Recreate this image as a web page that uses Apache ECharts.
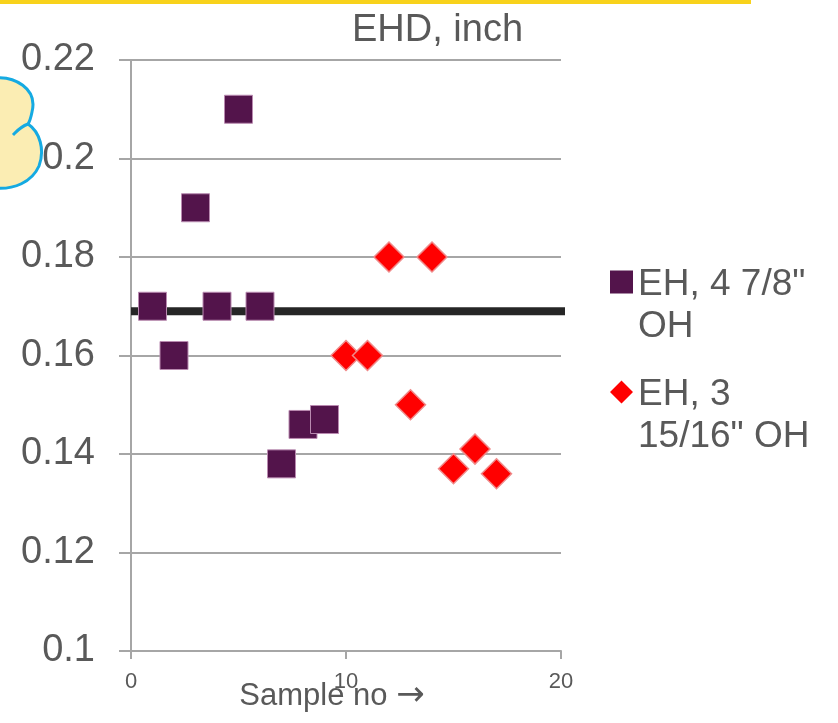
<!DOCTYPE html>
<html><head><meta charset="utf-8">
<script src="https://cdn.jsdelivr.net/npm/echarts@6/dist/echarts.min.js"></script>
<style>html,body{margin:0;padding:0;background:#fff}#c{width:838px;height:723px}</style>
</head><body><div id="c"></div>
<script>
// ---- data ----
const seriesNames = ['EH, 4 7/8" OH', 'EH, 3 15/16" OH'];
const legendLabels = ['EH, 4 7/8"\nOH', 'EH, 3\n15/16" OH'];
const sampleA = [1, 2, 3, 4, 5, 6, 7, 8, 9];
const ehdA = [0.17, 0.16, 0.19, 0.17, 0.21, 0.17, 0.138, 0.146, 0.147];
const sampleB = [10, 11, 12, 13, 14, 15, 16, 17];
const ehdB = [0.16, 0.16, 0.18, 0.15, 0.18, 0.137, 0.141, 0.136];
const refLineX = [0, 20.37];
const refLineY = [0.169, 0.169];
const titleText = 'EHD, inch';
const xAxisNameText = 'Sample no';
const xAxisArrow = '\u2192';

const FONT = '"Liberation Sans", Arial, sans-serif';
const TXT = '#595959';
const GRID = '#A6A6A6';

const zip = (xs, ys) => xs.map((x, i) => [x, ys[i]]);

// decorative cloud shape (partially off-canvas at the left)
const CloudShape = echarts.graphic.extendShape({
  shape: {},
  buildPath: function (ctx) {
    ctx.moveTo(-6, 78);
    ctx.bezierCurveTo(14, 76, 38, 88, 32, 112);
    ctx.bezierCurveTo(31, 117, 30, 121, 28, 124);
    ctx.bezierCurveTo(40, 132, 45, 150, 39, 166);
    ctx.bezierCurveTo(32, 182, 14, 190, -6, 188);
    ctx.closePath();
  }
});
echarts.graphic.registerShape('cloudShape', CloudShape);

const chart = echarts.init(document.getElementById('c'), null, {renderer: 'canvas'});
chart.setOption({
  animation: false,
  backgroundColor: '#fff',
  textStyle: {fontFamily: FONT},
  title: {
    text: titleText, left: 347, top: 7,
    textStyle: {fontSize: 38, fontWeight: 'normal', color: TXT, fontFamily: FONT}
  },
  grid: {left: 131, right: 277, top: 60, bottom: 72, containLabel: false, outerBoundsMode: 'none'},
  legend: {
    orient: 'vertical', left: 610, top: 264, padding: 0, itemGap: 26,
    itemWidth: 23, itemHeight: 71, symbolKeepAspect: false,
    itemStyle: {borderWidth: 0},
    data: [
      {name: seriesNames[0], icon: 'path://M0,0L10,0L10,10L0,10Z M0,30.9L10,30.9'},
      {name: seriesNames[1], icon: 'path://M5,0L10,5L5,10L0,5Z M0,30.9L10,30.9'}
    ],
    formatter: n => legendLabels[seriesNames.indexOf(n)],
    textStyle: {fontSize: 37, color: TXT, lineHeight: 42, fontFamily: FONT}
  },
  xAxis: {
    type: 'value', min: 0, max: 20, interval: 10,
    axisLine: {show: true, lineStyle: {color: GRID, width: 2}},
    axisTick: {show: true, length: 8, lineStyle: {color: GRID, width: 2}},
    splitLine: {show: false},
    axisLabel: {fontSize: 22, color: TXT, margin: 20, fontFamily: FONT},
    name: '{a|' + xAxisNameText + ' }{b|' + xAxisArrow + '}',
    nameLocation: 'middle', nameGap: 28, nameMoveOverlap: false,
    nameTextStyle: {
      fontSize: 31, color: TXT, padding: [0, 28, 0, 0], fontFamily: FONT,
      rich: {
        a: {fontSize: 31, color: TXT, fontFamily: FONT},
        b: {fontSize: 34, color: TXT, fontFamily: '"DejaVu Sans", sans-serif'}
      }
    }
  },
  yAxis: {
    type: 'value', min: 0.1, max: 0.22, interval: 0.02,
    axisLine: {show: true, lineStyle: {color: GRID, width: 2}},
    axisTick: {show: true, length: 12, lineStyle: {color: GRID, width: 2}},
    splitLine: {show: true, lineStyle: {color: GRID, width: 2}},
    axisLabel: {fontSize: 38, color: TXT, margin: 36, fontFamily: FONT,
      formatter: v => String(+v.toFixed(2))}
  },
  series: [
    {
      name: 'ref', type: 'line', data: zip(refLineX, refLineY),
      symbol: 'none', clip: false, silent: true, z: 1,
      lineStyle: {color: '#262626', width: 8}
    },
    {
      name: seriesNames[0], type: 'scatter', data: zip(sampleA, ehdA),
      symbol: 'rect', symbolSize: 28, z: 3,
      itemStyle: {color: '#53144B', borderColor: '#B98AB0', borderWidth: 1, opacity: 1}
    },
    {
      name: seriesNames[1], type: 'scatter', data: zip(sampleB, ehdB),
      symbol: 'diamond', symbolSize: 30, z: 3,
      itemStyle: {color: '#FF0000', borderColor: '#F08A8A', borderWidth: 1.5, opacity: 1}
    }
  ],
  graphic: [
    {type: 'rect', left: 0, top: 0, shape: {x: 0, y: 0, width: 751, height: 4},
     style: {fill: '#F8D21B'}, silent: true, z: 100},
    {type: 'cloudShape', silent: true, z: 0, x: 0, y: 0, shape: {},
     style: {fill: '#FBEDB3', stroke: '#15AAE2', lineWidth: 3}},
    {type: 'bezierCurve', silent: true, z: 0, x: 0, y: 0,
     shape: {x1: 28, y1: 124, x2: 13, y2: 135, cpx1: 20, cpy1: 127, cpx2: 17, cpy2: 131},
     style: {fill: null, stroke: '#15AAE2', lineWidth: 3}}
  ]
});
</script>
</body></html>
